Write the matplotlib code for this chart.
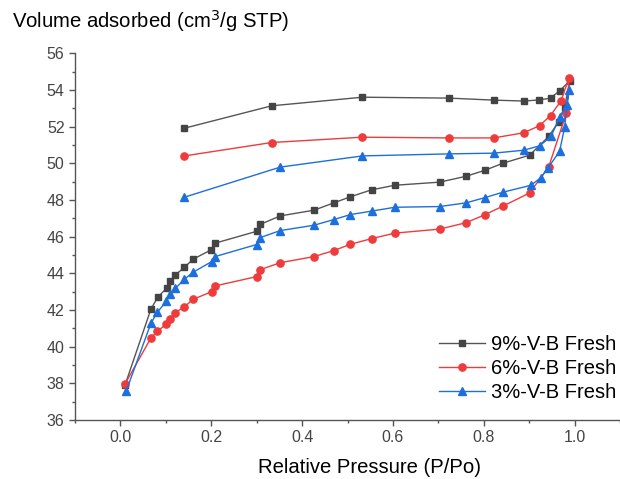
import matplotlib
matplotlib.use('Agg')
import matplotlib.pyplot as plt
from matplotlib.ticker import MultipleLocator

plt.rcParams['font.family'] = ['Liberation Sans', 'DejaVu Sans']

# 9%-V-B Fresh (adsorption then desorption)
p_9 = [0.010, 0.067, 0.082, 0.102, 0.110, 0.121, 0.141, 0.160, 0.199, 0.208,
       0.300, 0.308, 0.352, 0.426, 0.470, 0.506, 0.553, 0.604, 0.703, 0.761,
       0.803, 0.842, 0.901, 0.943, 0.965, 0.978, 0.990,
       0.967, 0.947, 0.922, 0.888, 0.823, 0.723, 0.533, 0.333, 0.141]
v_9 = [37.90, 42.04, 42.69, 43.20, 43.58, 43.91, 44.33, 44.77, 45.27, 45.64,
       46.29, 46.67, 47.13, 47.44, 47.84, 48.17, 48.55, 48.80, 48.97, 49.29,
       49.62, 50.00, 50.44, 51.46, 52.26, 53.09, 54.50,
       53.95, 53.55, 53.45, 53.39, 53.44, 53.55, 53.60, 53.13, 51.91]

# 6%-V-B Fresh
p_6 = [0.010, 0.067, 0.081, 0.101, 0.110, 0.121, 0.141, 0.160, 0.201, 0.208,
       0.300, 0.308, 0.352, 0.426, 0.470, 0.506, 0.553, 0.604, 0.703, 0.761,
       0.803, 0.842, 0.901, 0.943, 0.982, 0.988,
       0.970, 0.947, 0.923, 0.888, 0.822, 0.723, 0.533, 0.333, 0.141]
v_6 = [37.96, 40.47, 40.84, 41.22, 41.53, 41.86, 42.18, 42.58, 43.00, 43.31,
       43.82, 44.20, 44.58, 44.91, 45.24, 45.58, 45.89, 46.19, 46.41, 46.76,
       47.20, 47.66, 48.38, 49.80, 52.75, 54.67,
       53.40, 52.60, 52.05, 51.66, 51.38, 51.38, 51.42, 51.13, 50.40]

# 3%-V-B Fresh
p_3 = [0.0125, 0.067, 0.081, 0.101, 0.110, 0.121, 0.141, 0.160, 0.201, 0.208,
       0.300, 0.308, 0.352, 0.426, 0.470, 0.506, 0.553, 0.604, 0.703, 0.761,
       0.803, 0.842, 0.904, 0.926, 0.941, 0.967, 0.978, 0.987,
       0.983, 0.967, 0.948, 0.923, 0.888, 0.822, 0.723, 0.533, 0.352, 0.141]
v_3 = [37.57, 41.27, 41.87, 42.47, 42.86, 43.18, 43.68, 44.06, 44.64, 44.91,
       45.57, 45.95, 46.33, 46.62, 46.93, 47.20, 47.39, 47.60, 47.64, 47.84,
       48.13, 48.42, 48.80, 49.22, 49.73, 50.65, 51.95, 53.97,
       53.15, 52.50, 51.46, 50.95, 50.71, 50.55, 50.51, 50.40, 49.79, 48.15]

fig = plt.figure(figsize=(6.2, 4.79), dpi=100)
ax = fig.add_axes([0.121, 0.123, 0.879, 0.766])

ax.plot(p_9, v_9, color='#555555', lw=1.0, marker='s', ms=4.8,
        mfc='#444444', mec='#444444', label='9%-V-B Fresh')
ax.plot(p_6, v_6, color='#ee3b3b', lw=1.0, marker='o', ms=5.2,
        mfc='#ee3b3b', mec='#ee3b3b', label='6%-V-B Fresh')
ax.plot(p_3, v_3, color='#1c6fdc', lw=1.0, marker='^', ms=5.8,
        mfc='#1c6fdc', mec='#1c6fdc', label='3%-V-B Fresh')

ax.set_xlim(-0.1, 1.1)
ax.set_ylim(36, 56)
ax.xaxis.set_major_locator(MultipleLocator(0.2))
ax.xaxis.set_minor_locator(MultipleLocator(0.1))
ax.yaxis.set_major_locator(MultipleLocator(2))
ax.yaxis.set_minor_locator(MultipleLocator(1))
ax.set_xticks([0.0, 0.2, 0.4, 0.6, 0.8, 1.0])
ax.set_xticklabels(['0.0', '0.2', '0.4', '0.6', '0.8', '1.0'])

ax.spines['right'].set_visible(False)
ax.spines['top'].set_visible(False)
for s in ('left', 'bottom'):
    ax.spines[s].set_color('#555555')
    ax.spines[s].set_linewidth(1.0)
ax.tick_params(which='major', direction='out', length=4, width=1,
               color='#555555', labelsize=11.5, labelcolor='#444444')
ax.tick_params(which='minor', direction='out', length=2.5, width=1,
               color='#555555')

ax.set_xlabel('Relative Pressure (P/Po)', fontsize=14.6, va='center')
ax.xaxis.set_label_coords(0.541, -0.128)
fig.text(0.019, 0.957, 'Volume adsorbed (cm$^3$/g STP)', fontsize=14.6,
         ha='left', va='center')

ax.legend(loc='lower right', bbox_to_anchor=(1.012, 0.022), frameon=False,
          fontsize=14.5, handlelength=2.3, handletextpad=0.3,
          labelspacing=0.24, numpoints=1, borderaxespad=0.1)

fig.savefig('out.png', dpi=100)
